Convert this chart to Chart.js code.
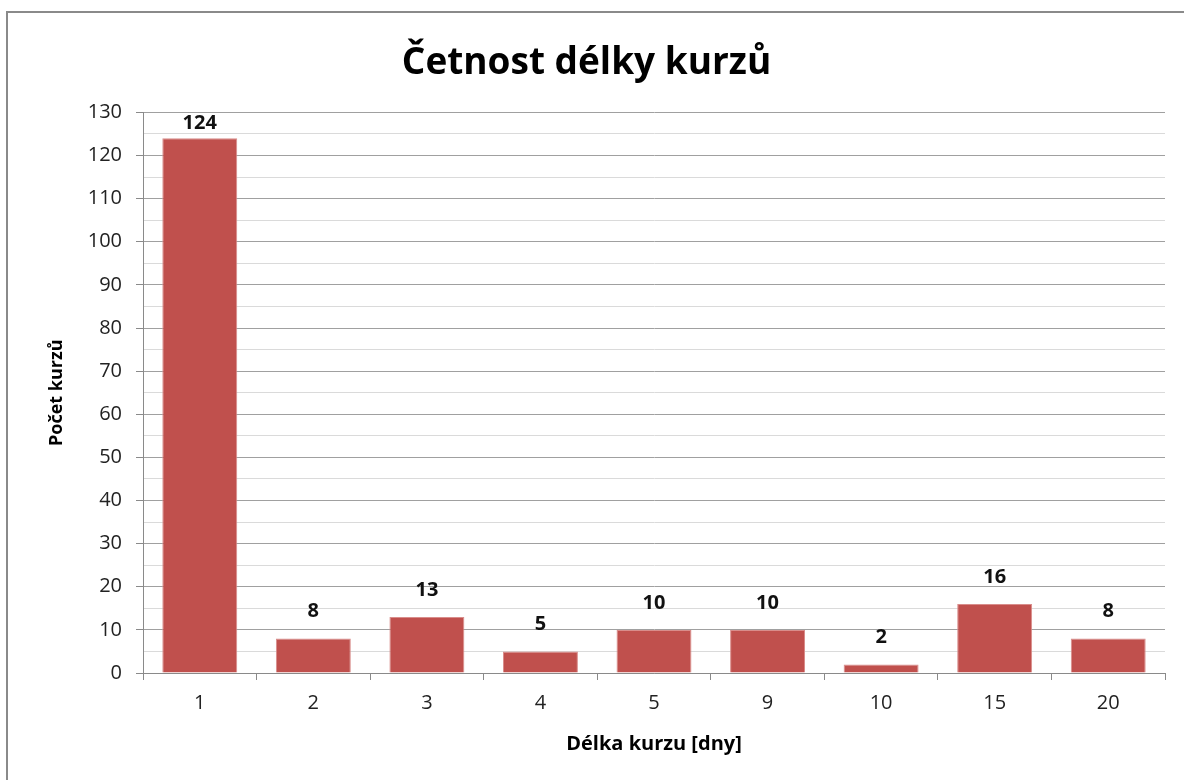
<!DOCTYPE html>
<html>
<head>
<meta charset="utf-8">
<script src="https://cdn.jsdelivr.net/npm/chart.js@4.4.1/dist/chart.umd.min.js"></script>
<style>
  html, body { margin: 0; padding: 0; background: #fff; overflow: hidden; }
  #frame {
    position: absolute; left: 6px; top: 11px; width: 1200px; height: 800px;
    border-left: 2px solid #8a8a8a; border-top: 2px solid #8a8a8a;
  }
  #box { position: absolute; left: 0; top: 0; width: 1176px; height: 767px; }
</style>
</head>
<body>
<div id="frame"><div id="box"><canvas id="courseChart"></canvas></div></div>
<script>
const categories = ['1', '2', '3', '4', '5', '9', '10', '15', '20'];
const courseCounts = [124, 8, 13, 5, 10, 10, 2, 16, 8];
const yTicks = [0, 10, 20, 30, 40, 50, 60, 70, 80, 90, 100, 110, 120, 130];

const FONT = '"Open Sans", sans-serif';

// draws the value above each bar, kept inside the plot area
const barLabels = {
  id: 'barLabels',
  afterDatasetsDraw(chart) {
    const ctx = chart.ctx;
    const meta = chart.getDatasetMeta(0);
    ctx.save();
    ctx.font = 'bold 20px ' + FONT;
    ctx.fillStyle = '#111';
    ctx.textAlign = 'center';
    ctx.textBaseline = 'middle';
    meta.data.forEach((bar, i) => {
      const y = Math.max(bar.y - 27, chart.chartArea.top + 11);
      ctx.fillText(courseCounts[i], bar.x, y);
    });
    ctx.restore();
  }
};

new Chart(document.getElementById('courseChart').getContext('2d'), {
  type: 'bar',
  data: {
    labels: categories,
    datasets: [{
      label: 'Počet kurzů',
      data: courseCounts,
      backgroundColor: '#C0504D',
      borderColor: '#d98d8b',
      borderWidth: 1,
      categoryPercentage: 1,
      barPercentage: 0.66
    }]
  },
  options: {
    responsive: true,
    maintainAspectRatio: false,
    animation: false,
    layout: { padding: { left: 0, right: 19, bottom: 24, top: 0 } },
    plugins: {
      legend: { display: false },
      tooltip: { enabled: false },
      title: {
        display: true,
        text: 'Četnost délky kurzů',
        color: '#000',
        font: { family: FONT, size: 37, weight: 'bold' },
        padding: { top: 28, bottom: 27 }
      }
    },
    scales: {
      x: {
        grid: {
          offset: true,
          drawOnChartArea: false,
          tickLength: 7,
          color: '#8a8a8a'
        },
        border: { color: '#8a8a8a' },
        ticks: { color: '#222', font: { family: FONT, size: 20 }, padding: 11 },
        title: {
          display: true,
          text: 'Délka kurzu [dny]',
          color: '#000',
          font: { family: FONT, size: 20, weight: 'bold' },
          padding: { top: 6, bottom: 0 }
        }
      },
      y: {
        min: 0,
        max: 130,
        afterFit: scale => { scale.width = 135; },
        afterBuildTicks: scale => {
          const all = [];
          yTicks.forEach(v => {
            all.push({ value: v });
            if (v < 130) all.push({ value: v + 5 });
          });
          scale.ticks = all;
        },
        grid: {
          color: ctx => (ctx.tick && ctx.tick.value % 10 === 0) ? '#a0a0a0' : '#dadada',
          tickColor: ctx => (ctx.tick && ctx.tick.value % 10 === 0) ? '#8a8a8a' : 'rgba(0,0,0,0)',
          tickLength: 7
        },
        border: { color: '#8a8a8a' },
        ticks: {
          color: '#222',
          font: { family: FONT, size: 20 },
          padding: 14,
          autoSkip: false,
          callback: v => (v % 10 === 0 ? v : '')
        },
        title: {
          display: true,
          text: 'Počet kurzů',
          color: '#000',
          font: { family: FONT, size: 18, weight: 'bold' },
          padding: { top: 38, bottom: 0 }
        }
      }
    }
  },
  plugins: [barLabels]
});
</script>
</body>
</html>
